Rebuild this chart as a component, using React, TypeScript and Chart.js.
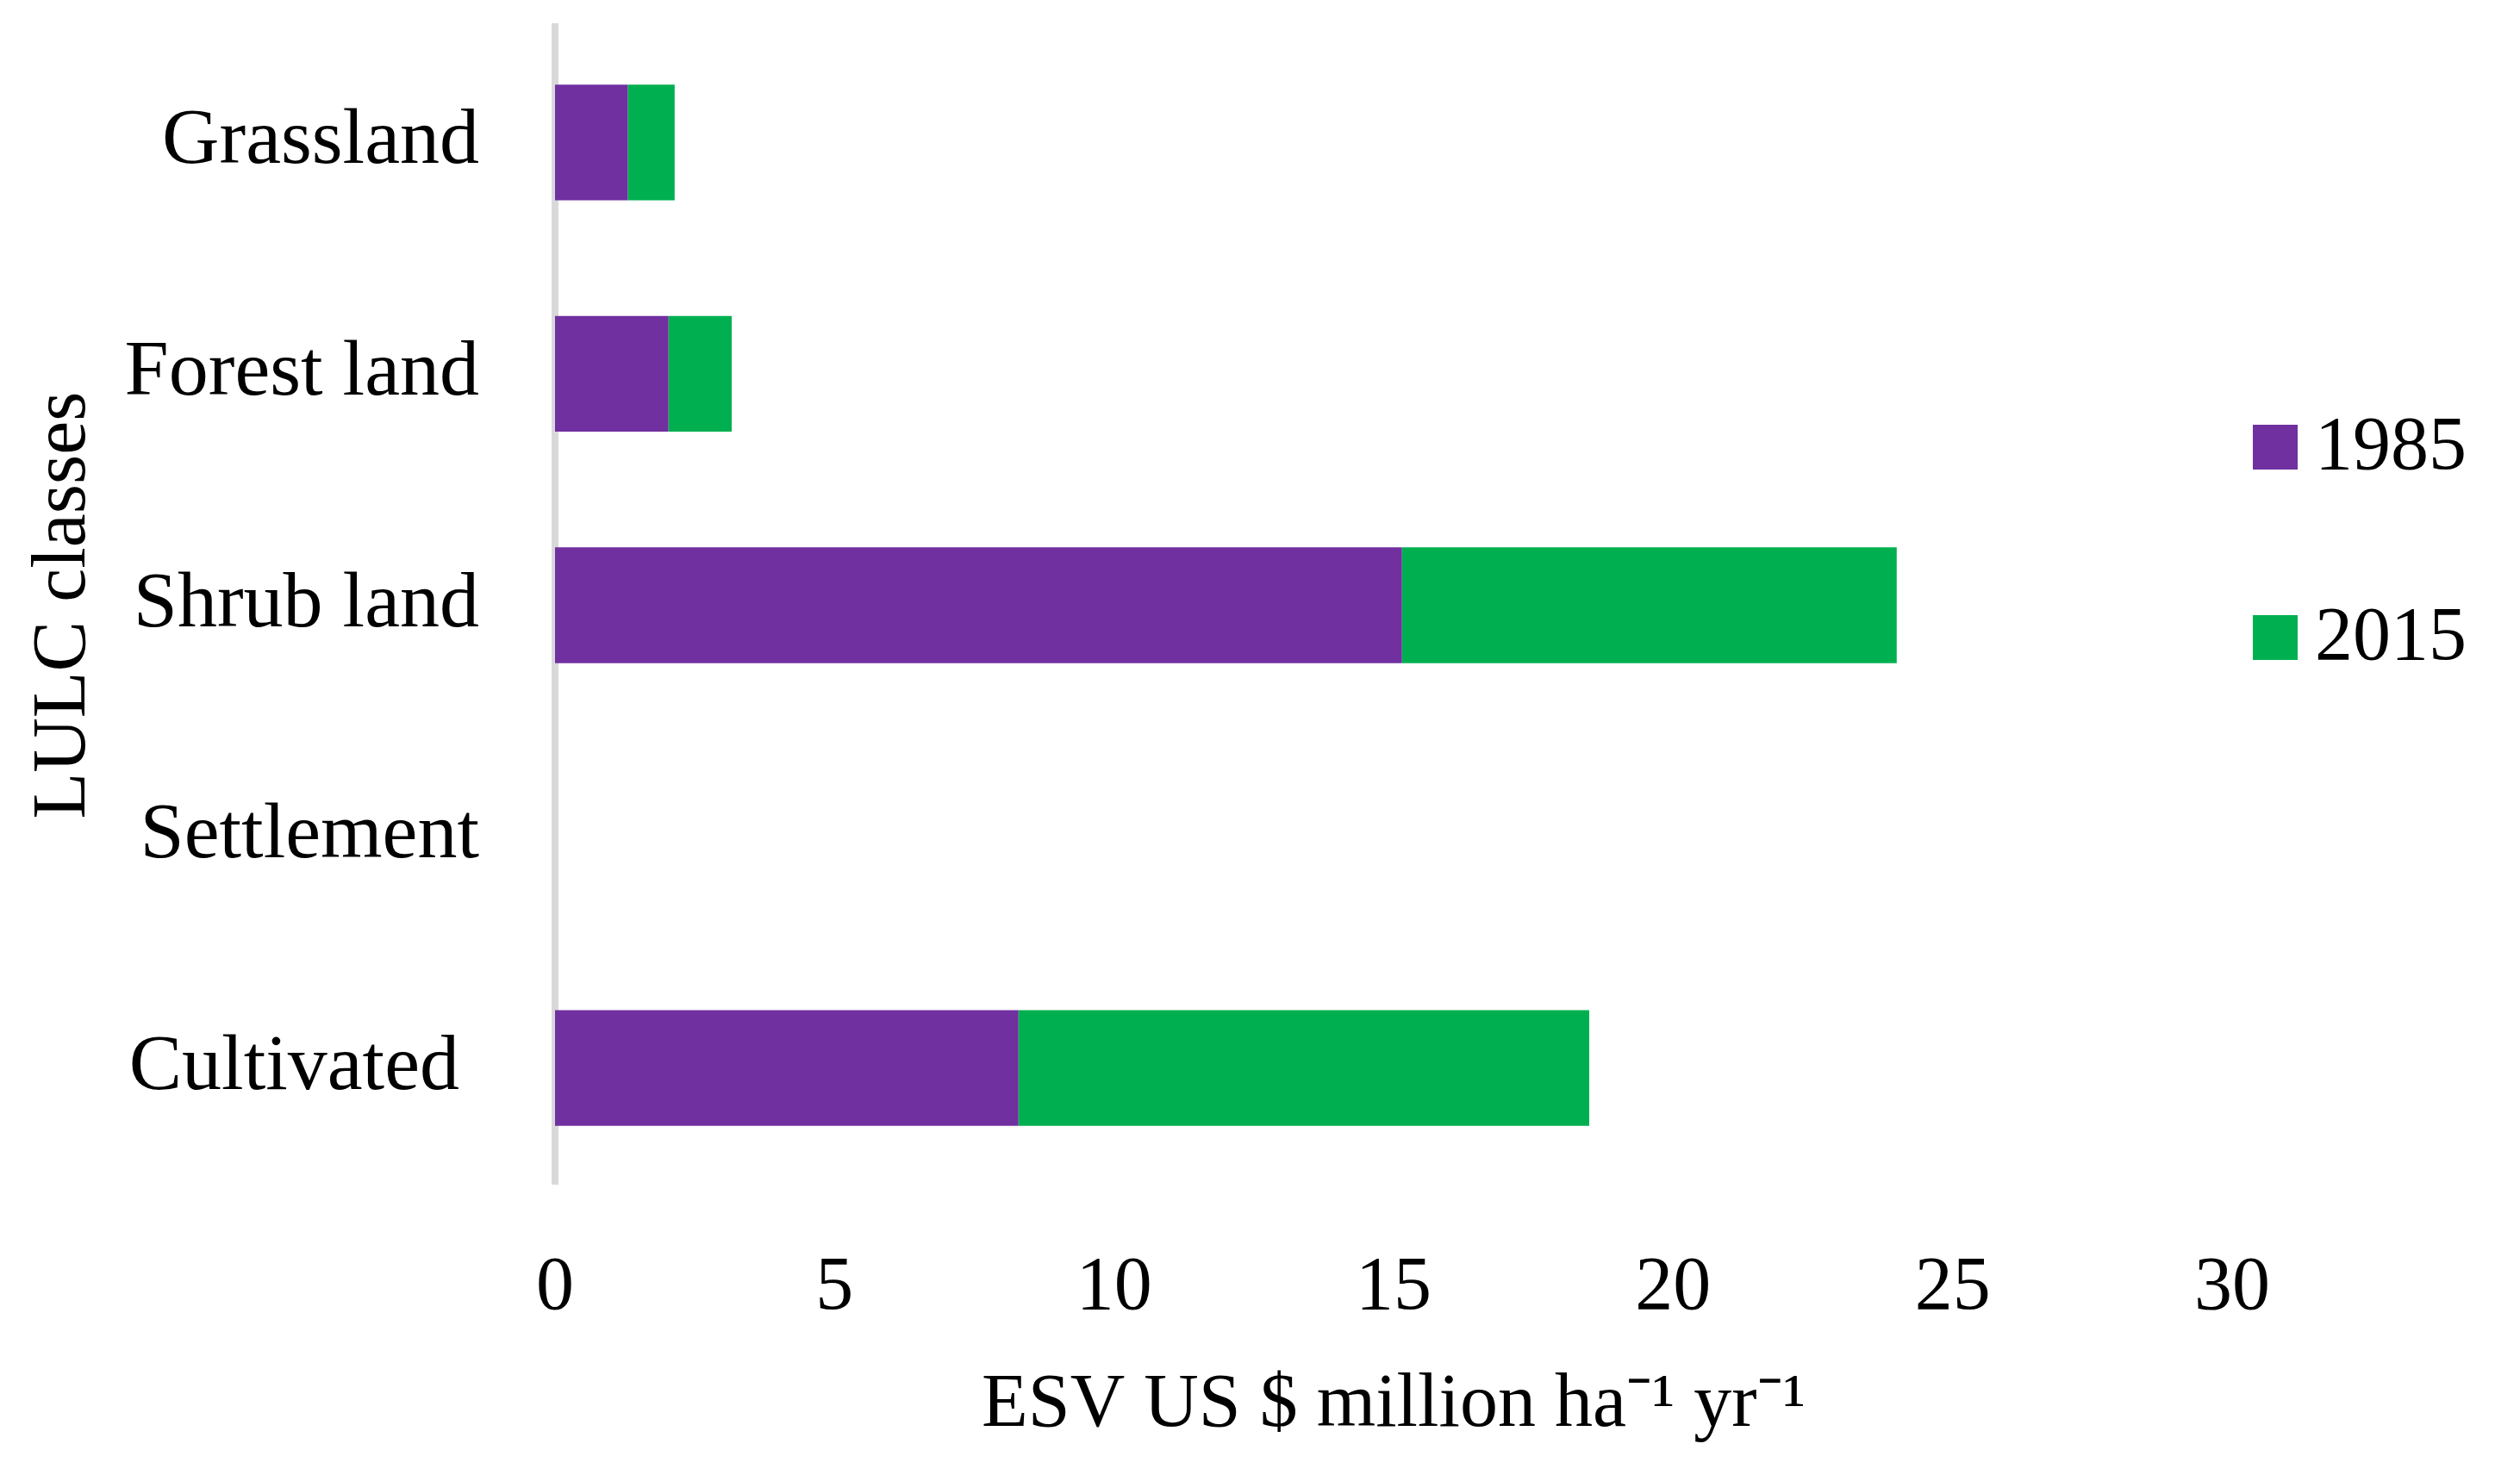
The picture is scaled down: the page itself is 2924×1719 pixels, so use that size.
import React, { useEffect, useRef } from "react";
import { Chart, registerables } from "chart.js";

Chart.register(...registerables);

const categories = ["Grassland", "Forest land", "Shrub land", "Settlement", "Cultivated "];
const seriesNames = ["1985", "2015"];
const values1985 = [1.3, 2.03, 15.15, 0, 8.29];
const values2015 = [0.84, 1.13, 8.85, 0, 10.21];
const seriesColors = ["#7030A0", "#00B050"];
const xTickStep = 5;
const xMax = 30;
const xTitle = "ESV US $ million ha\u207B\u00B9 yr\u207B\u00B9";
const yTitle = "LULC classes";

const FONT = "'Liberation Serif', 'Times New Roman', serif";

const sideLegend = {
  id: "sideLegend",
  afterDraw(chart: any) {
    const ctx = chart.ctx;
    const area = chart.chartArea;
    const box = 52;
    const x = area.right + 24;
    const firstY = 519;
    const gap = 221;
    ctx.save();
    ctx.font = `88px ${FONT}`;
    ctx.textBaseline = "middle";
    ctx.textAlign = "left";
    chart.data.datasets.forEach((ds: any, i: number) => {
      const cy = firstY + i * gap;
      ctx.fillStyle = ds.backgroundColor;
      ctx.fillRect(x, cy - box / 2, box, box);
      ctx.fillStyle = "#000";
      ctx.fillText(ds.label, x + box + 20, cy + 2);
    });
    ctx.restore();
  },
};

export default function App() {
  const ref = useRef<HTMLCanvasElement | null>(null);

  useEffect(() => {
    if (!ref.current) return;
    document.body.style.margin = "0";
    document.body.style.background = "#fff";
    const chart = new Chart(ref.current, {
      type: "bar",
      data: {
        labels: categories,
        datasets: [
          { label: seriesNames[0], data: values1985, backgroundColor: seriesColors[0] },
          { label: seriesNames[1], data: values2015, backgroundColor: seriesColors[1] },
        ],
      },
      options: {
        animation: false,
        responsive: true,
        maintainAspectRatio: false,
        indexAxis: "y",
        datasets: { bar: { categoryPercentage: 1, barPercentage: 0.5 } },
        layout: { padding: { left: 0, right: 334, top: 31, bottom: 0 } },
        font: { family: FONT, size: 88 },
        color: "#000",
        plugins: {
          legend: { display: false },
          tooltip: { enabled: false },
        },
        scales: {
          x: {
            type: "linear",
            stacked: true,
            min: 0,
            max: xMax,
            ticks: {
              stepSize: xTickStep,
              color: "#000",
              font: { family: FONT, size: 88 },
              padding: 69,
              maxRotation: 0,
            },
            grid: { display: false, drawTicks: false },
            border: { display: false },
            title: {
              display: true,
              text: xTitle,
              color: "#000",
              font: { family: FONT, size: 88 },
              padding: { top: 0, bottom: 34 },
            },
            afterFit: (scale: any) => {
              scale.height = 345;
            },
          },
          y: {
            type: "category",
            stacked: true,
            z: 1,
            ticks: {
              color: "#000",
              font: { family: FONT, size: 92 },
              padding: 88,
            },
            grid: { display: false, drawTicks: false },
            border: { display: true, color: "#d9d9d9", width: 8 },
            title: {
              display: true,
              text: yTitle,
              color: "#000",
              font: { family: FONT, size: 88 },
              padding: { top: 22, bottom: 0 },
            },
            afterFit: (scale: any) => {
              scale.width = 644;
              scale.paddingTop = 0;
              scale.paddingBottom = 0;
            },
          },
        },
      },
      plugins: [sideLegend],
    } as any);
    return () => chart.destroy();
  }, []);

  return (
    <div style={{ position: "fixed", left: 0, top: 0, width: "100vw", height: "100vh", background: "#fff" }}>
      <canvas ref={ref} />
    </div>
  );
}
